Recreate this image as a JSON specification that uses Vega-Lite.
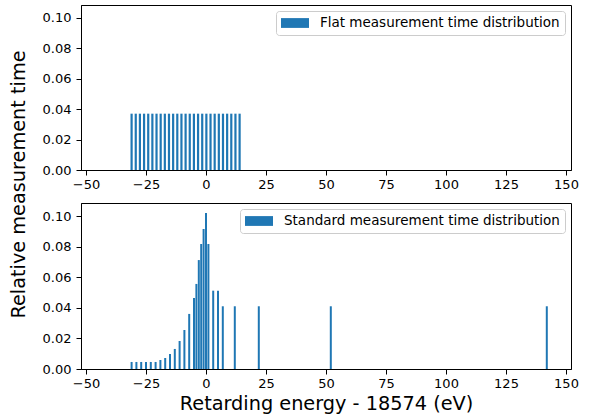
{
  "$schema": "https://vega.github.io/schema/vega-lite/v6.json",
  "padding": {"left": 8, "top": 4, "right": 3, "bottom": 5},
  "bounds": "flush",
  "spacing": 33,
  "config": {
    "font": "DejaVu Sans",
    "view": {"stroke": "black", "strokeWidth": 1},
    "axis": {
      "domainColor": "black", "tickColor": "black", "labelColor": "black", "titleColor": "black",
      "grid": false, "labelFontSize": 13, "titleFontSize": 19.3, "titleFontWeight": "normal",
      "tickSize": 5, "labelFont": "DejaVu Sans", "titleFont": "DejaVu Sans", "labelFlush": false
    },
    "legend": {
      "labelFont": "DejaVu Sans", "labelFontSize": 13.5, "labelColor": "black", "labelLimit": 0,
      "fillColor": "white", "strokeColor": "#cccccc", "cornerRadius": 3, "padding": 5,
      "offset": 6, "symbolType": "M-1,-0.7L3,-0.7L3,0.7L-1,0.7Z", "symbolSize": 196,
      "symbolStrokeWidth": 0, "labelOffset": 25, "symbolOpacity": 1
    }
  },
  "datasets": {
    "flat": [
      {"e": -31.0, "t": 0.037037}, {"e": -29.269, "t": 0.037037}, {"e": -27.538, "t": 0.037037},
      {"e": -25.808, "t": 0.037037}, {"e": -24.077, "t": 0.037037}, {"e": -22.346, "t": 0.037037},
      {"e": -20.615, "t": 0.037037}, {"e": -18.885, "t": 0.037037}, {"e": -17.154, "t": 0.037037},
      {"e": -15.423, "t": 0.037037}, {"e": -13.692, "t": 0.037037}, {"e": -11.962, "t": 0.037037},
      {"e": -10.231, "t": 0.037037}, {"e": -8.5, "t": 0.037037}, {"e": -6.769, "t": 0.037037},
      {"e": -5.038, "t": 0.037037}, {"e": -3.308, "t": 0.037037}, {"e": -1.577, "t": 0.037037},
      {"e": 0.154, "t": 0.037037}, {"e": 1.885, "t": 0.037037}, {"e": 3.615, "t": 0.037037},
      {"e": 5.346, "t": 0.037037}, {"e": 7.077, "t": 0.037037}, {"e": 8.808, "t": 0.037037},
      {"e": 10.538, "t": 0.037037}, {"e": 12.269, "t": 0.037037}, {"e": 14.0, "t": 0.037037}
    ],
    "standard": [
      {"e": -31, "t": 0.0046}, {"e": -29, "t": 0.0046}, {"e": -27, "t": 0.0046},
      {"e": -25, "t": 0.0046}, {"e": -23, "t": 0.0046}, {"e": -21, "t": 0.0046},
      {"e": -19, "t": 0.0059}, {"e": -17, "t": 0.0072}, {"e": -15, "t": 0.0098},
      {"e": -13, "t": 0.0131}, {"e": -11, "t": 0.0183}, {"e": -9, "t": 0.0255},
      {"e": -7, "t": 0.036}, {"e": -5, "t": 0.0464}, {"e": -4, "t": 0.0556},
      {"e": -3, "t": 0.0712}, {"e": -2, "t": 0.0817}, {"e": -1, "t": 0.0915},
      {"e": 0, "t": 0.102}, {"e": 1, "t": 0.0817}, {"e": 3, "t": 0.0512},
      {"e": 5, "t": 0.0512}, {"e": 7, "t": 0.041}, {"e": 12, "t": 0.041},
      {"e": 22, "t": 0.041}, {"e": 52, "t": 0.041}, {"e": 142, "t": 0.041}
    ]
  },
  "resolve": {"scale": {"color": "independent"}, "legend": {"color": "independent"}},
  "vconcat": [
    {
      "width": 490, "height": 165,
      "data": {"name": "flat"},
      "mark": {"type": "bar", "size": 2.2, "orient": "vertical"},
      "encoding": {
        "x": {"field": "e", "type": "quantitative",
              "scale": {"domain": [-50, 150], "nice": false, "zero": false},
              "axis": {"values": [-50, -25, 0, 25, 50, 75, 100, 125, 150], "title": null, "labelPadding": 3}},
        "y": {"field": "t", "type": "quantitative", "stack": null,
              "scale": {"domain": [0, 0.1085], "nice": false},
              "axis": {"values": [0, 0.02, 0.04, 0.06, 0.08, 0.1], "format": ".2f",
                       "title": "Relative measurement time", "titleX": -72, "titleY": 179,
                       "titleAngle": 270, "titleBaseline": "top", "titleAlign": "center", "labelPadding": 5}},
        "color": {"datum": "Flat measurement time distribution", "type": "nominal",
                  "scale": {"range": ["#1f77b4"]},
                  "legend": {"title": null, "orient": "top-right"}}
      }
    },
    {
      "width": 490, "height": 166,
      "data": {"name": "standard"},
      "mark": {"type": "bar", "size": 2, "orient": "vertical"},
      "encoding": {
        "x": {"field": "e", "type": "quantitative",
              "scale": {"domain": [-50, 150], "nice": false, "zero": false},
              "axis": {"values": [-50, -25, 0, 25, 50, 75, 100, 125, 150],
                       "title": "Retarding energy - 18574 (eV)", "labelPadding": 3, "titlePadding": 4}},
        "y": {"field": "t", "type": "quantitative", "stack": null,
              "scale": {"domain": [0, 0.1085], "nice": false},
              "axis": {"values": [0, 0.02, 0.04, 0.06, 0.08, 0.1], "format": ".2f", "title": null, "labelPadding": 5}},
        "color": {"datum": "Standard measurement time distribution", "type": "nominal",
                  "scale": {"range": ["#1f77b4"]},
                  "legend": {"title": null, "orient": "top-right"}}
      }
    }
  ]
}
